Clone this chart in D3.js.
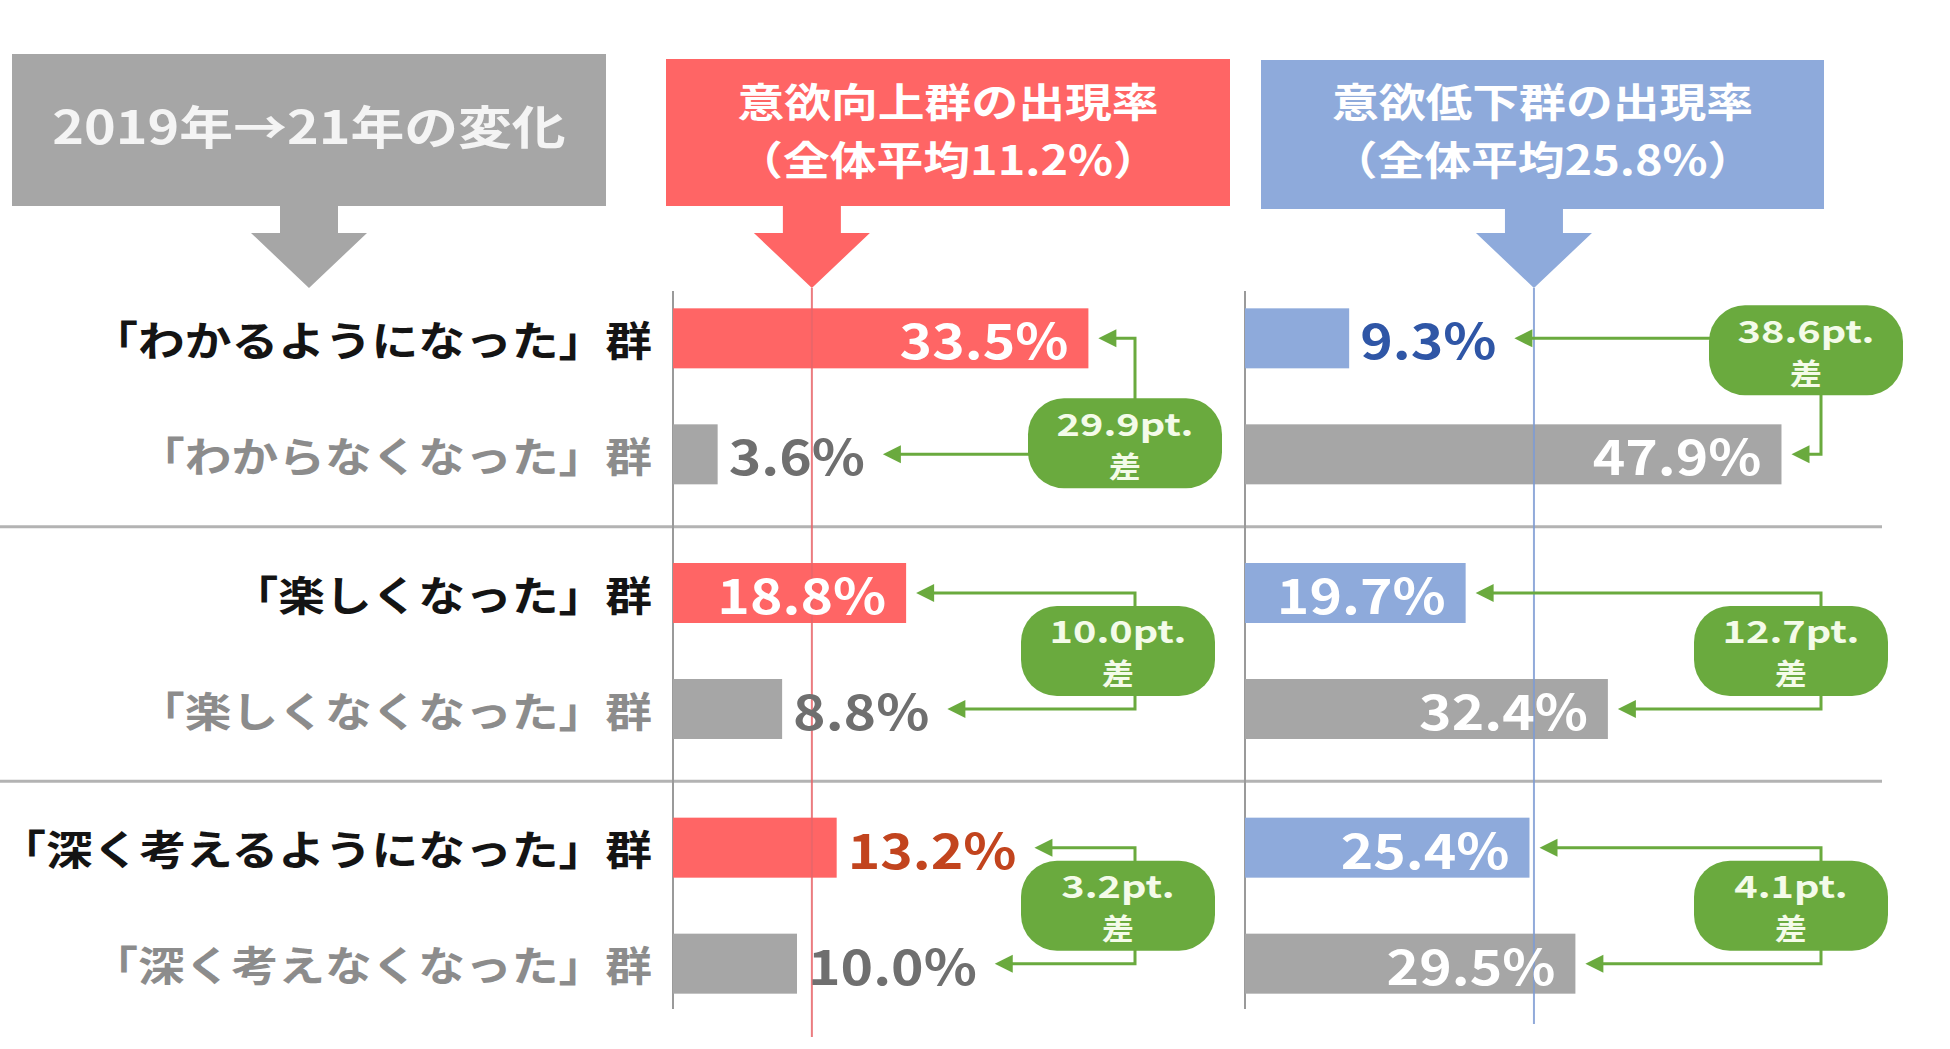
<!DOCTYPE html>
<html>
<head>
<meta charset="utf-8">
<script src="https://cdn.jsdelivr.net/npm/d3@7"></script>
<style>
  html, body { margin: 0; padding: 0; background: #fff; }
  svg text { font-family: "Noto Sans CJK JP", "Noto Sans", sans-serif; font-weight: 700; }
</style>
</head>
<body>
<svg id="chart"></svg>
<script>
// data
const groups = ["understand", "enjoy", "think"];
const posLabels = ["「わかるようになった」群", "「楽しくなった」群", "「深く考えるようになった」群"];
const negLabels = ["「わからなくなった」群", "「楽しくなくなった」群", "「深く考えなくなった」群"];
const upPos = [33.5, 18.8, 13.2];
const upNeg = [3.6, 8.8, 10.0];
const downPos = [9.3, 19.7, 25.4];
const downNeg = [47.9, 32.4, 29.5];
const upAvg = 11.2;
const downAvg = 25.8;
const headerText = "2019年→21年の変化";
const upTitle = ["意欲向上群の出現率", "（全体平均11.2%）"];
const downTitle = ["意欲低下群の出現率", "（全体平均25.8%）"];

const width = 1950, height = 1049;
const sx = 1.15; // the source picture is a bit wide, stretch text to match
const green = "#6aaa3e";

const svg = d3.select("#chart").attr("width", width).attr("height", height);

function stext(parent, x, y, str, size, color, anchor, sxx) {
  const g = parent.append("g").attr("transform", `translate(${x},${y}) scale(${sxx || sx},1)`);
  return g.append("text")
    .text(str)
    .attr("font-size", size)
    .attr("fill", color)
    .attr("text-anchor", anchor || "start")
    .attr("dominant-baseline", "central");
}

const xUp = d3.scaleLinear().domain([0, 50]).range([673, 1293]);
const xDown = d3.scaleLinear().domain([0, 50]).range([1245, 1805]);
const yGroup = d3.scaleBand().domain(groups).range([269, 1033]);
const rowY = (i, k) => yGroup(groups[i]) + yGroup.bandwidth() / 2 + (k === 0 ? -58 : 58);
const barH = 60;

// separators
groups.slice(0, 2).forEach(g => {
  const y = yGroup(g) + yGroup.bandwidth() + 3;
  svg.append("line").attr("x1", 0).attr("x2", 1882).attr("y1", y).attr("y2", y)
    .attr("stroke", "#b3b3b3").attr("stroke-width", 3);
});

// header boxes + block arrows
function blockArrow(cx, top, color) {
  const pts = [[cx - 29, top], [cx + 29, top], [cx + 29, 233], [cx + 58, 233], [cx, 288],
               [cx - 58, 233], [cx - 29, 233]];
  svg.append("path").attr("d", d3.line()(pts) + "Z").attr("fill", color);
}

svg.append("rect").attr("x", 12).attr("y", 54).attr("width", 594).attr("height", 152).attr("fill", "#a6a6a6");
stext(svg, 309, 124, headerText, 46, "#f4f4f4", "middle", 1.17);
blockArrow(309, 205, "#a6a6a6");

const panels = [
  {x: xUp, pos: upPos, neg: upNeg, avg: upAvg, fill: "#ff6565", line: "#e8666a",
   box: [666, 59, 564, 147], title: upTitle, posOut: "#c2441e",
   connX: 1135, badgeCx: [1125, 1118, 1118], badgeDy: [47, 0, 0]},
  {x: xDown, pos: downPos, neg: downNeg, avg: downAvg, fill: "#8eaadb", line: "#7f9cd4",
   box: [1261, 60, 563, 149], title: downTitle, posOut: "#2f56a6",
   connX: 1821, badgeCx: [1806, 1791, 1791], badgeDy: [-46, 0, 0]}
];

panels.forEach(p => {
  const [bx, by, bw, bh] = p.box;
  svg.append("rect").attr("x", bx).attr("y", by).attr("width", bw).attr("height", bh).attr("fill", p.fill);
  stext(svg, bx + bw / 2, 100, p.title[0], 40, "#fff", "middle", 1.17);
  stext(svg, bx + bw / 2, 158, p.title[1], 40, "#fff", "middle", 1.17);
  blockArrow(p.x(p.avg), by + bh - 1, p.fill);

  const x0 = p.x(0);
  svg.append("line").attr("x1", x0).attr("x2", x0).attr("y1", 291).attr("y2", 1009)
    .attr("stroke", "#9a9a9a").attr("stroke-width", 2);

  const rows = [];
  groups.forEach((g, i) => {
    rows.push({i, k: 0, v: p.pos[i], fill: p.fill, out: p.posOut});
    rows.push({i, k: 1, v: p.neg[i], fill: "#a6a6a6", out: "#6f6f6f"});
  });

  svg.append("g").selectAll("rect").data(rows).join("rect")
    .attr("x", x0)
    .attr("y", d => rowY(d.i, d.k) - barH / 2)
    .attr("width", d => p.x(d.v) - x0)
    .attr("height", barH)
    .attr("fill", d => d.fill);

  svg.append("line").attr("x1", p.x(p.avg)).attr("x2", p.x(p.avg))
    .attr("y1", 288).attr("y2", p === panels[0] ? 1037 : 1024)
    .attr("stroke", p.line).attr("stroke-width", 2).attr("opacity", 0.85);

  // value labels, remember where each arrow should stop
  rows.forEach(d => {
    const end = p.x(d.v);
    const y = rowY(d.i, d.k);
    const label = d.v.toFixed(1) + "%";
    if (d.v >= 15) {
      stext(svg, end - 20, y, label, 48, "#fff", "end");
      d.tip = end + 10;
    } else {
      const t = stext(svg, end + 11, y, label, 48, d.out, "start");
      d.tip = end + 11 + t.node().getComputedTextLength() * sx + 18;
    }
  });

  // difference brackets
  groups.forEach((g, i) => {
    const top = rows.find(r => r.i === i && r.k === 0);
    const bot = rows.find(r => r.i === i && r.k === 1);
    const y1 = rowY(i, 0), y2 = rowY(i, 1);
    svg.append("path")
      .attr("d", `M${top.tip + 16},${y1} H${p.connX} V${y2} H${bot.tip + 16}`)
      .attr("fill", "none").attr("stroke", green).attr("stroke-width", 3);
    [[top.tip, y1], [bot.tip, y2]].forEach(([tx, ty]) => {
      svg.append("path").attr("d", `M${tx},${ty} L${tx + 18},${ty - 9} L${tx + 18},${ty + 9} Z`).attr("fill", green);
    });
    const cx = p.badgeCx[i];
    const cy = yGroup(g) + yGroup.bandwidth() / 2 + p.badgeDy[i];
    svg.append("rect").attr("x", cx - 97).attr("y", cy - 45).attr("width", 194).attr("height", 90)
      .attr("rx", 36).attr("ry", 36).attr("fill", green);
    const diff = Math.abs(p.pos[i] - p.neg[i]).toFixed(1);
    stext(svg, cx, cy - 21, diff + "pt.", 31, "#f4fbe9", "middle", 1.28);
    stext(svg, cx, cy + 22, "差", 29, "#f4fbe9", "middle", 1.1);
  });
});

// category labels
groups.forEach((g, i) => {
  stext(svg, 652, rowY(i, 0), posLabels[i], 41, "#141414", "end", 1.14);
  stext(svg, 652, rowY(i, 1), negLabels[i], 41, "#8c8c8c", "end", 1.14);
});
</script>
</body>
</html>
